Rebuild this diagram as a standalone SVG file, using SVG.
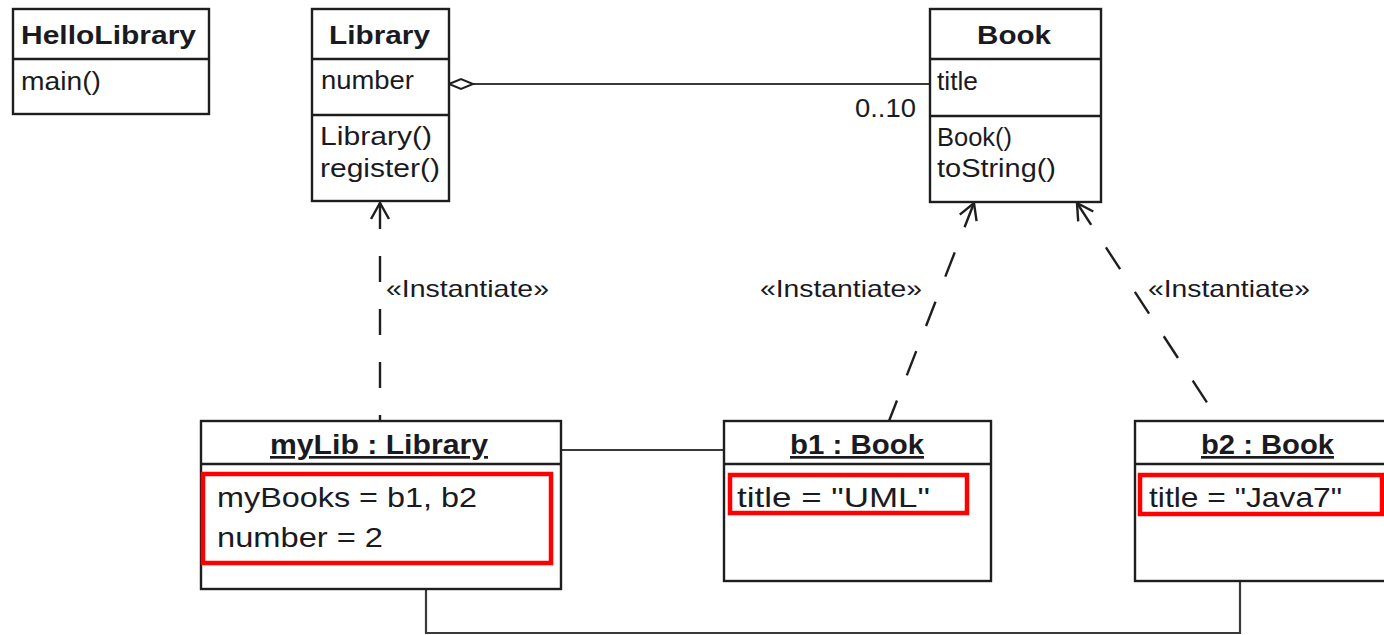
<svg xmlns="http://www.w3.org/2000/svg" width="1384" height="635" viewBox="0 0 1384 635">
  <style>
    .box { fill: #ffffff; stroke: #1e1e1e; stroke-width: 2.4; }
    .div { stroke: #1e1e1e; stroke-width: 2.4; }
    .t { font-family: "Liberation Sans", Arial, sans-serif; fill: #1a1a22; }
    .title { font-weight: bold; font-size: 26px; }
    .member { font-size: 26px; }
    .slot { font-size: 28px; }
    .obj { font-weight: bold; font-size: 27px; text-decoration: underline; }
    .stereo { font-size: 24px; }
    .link { fill: none; stroke: #3a3a3a; stroke-width: 2.2; }
    .dep { fill: none; stroke: #1e1e1e; stroke-width: 2.4; stroke-dasharray: 26 27; }
    .hl { fill: none; stroke: #ff0000; stroke-width: 4.5; }
  </style>
  <defs>
    <!-- open arrowhead; the V opens along the path direction, so it goes at the path start -->
    <marker id="open" markerUnits="userSpaceOnUse" markerWidth="40" markerHeight="40" refX="0" refY="0" viewBox="-4 -20 40 40" orient="auto" overflow="visible">
      <path d="M16,-9 L0,0 L16,9" fill="none" stroke="#1e1e1e" stroke-width="2.4"/>
    </marker>
  </defs>

  <rect width="1384" height="635" fill="#ffffff"/>

  <!-- connectors -->
  <g id="connectors">
    <!-- aggregation Library <>— Book -->
    <line class="link" x1="473" y1="84" x2="930" y2="84" stroke="#1e1e1e"/>
    <polygon points="449,84 461,79 473,84 461,89" fill="#ffffff" stroke="#1e1e1e" stroke-width="2"/>
    <text class="t member" x="855" y="117" textLength="61" lengthAdjust="spacingAndGlyphs">0..10</text>

    <!-- instantiation dependencies (drawn from the class end) -->
    <path class="dep" d="M380,203 L380,421" marker-start="url(#open)"/>
    <path class="dep" d="M974,203 L889,421" marker-start="url(#open)"/>
    <path class="dep" d="M1077,203 L1219,421" marker-start="url(#open)"/>
    <text class="t stereo" x="386" y="297" textLength="163" lengthAdjust="spacingAndGlyphs">«Instantiate»</text>
    <text class="t stereo" x="760" y="297" textLength="162" lengthAdjust="spacingAndGlyphs">«Instantiate»</text>
    <text class="t stereo" x="1148" y="297" textLength="162" lengthAdjust="spacingAndGlyphs">«Instantiate»</text>

    <!-- object links -->
    <line class="link" x1="561" y1="450" x2="724" y2="450"/>
    <path class="link" d="M426,589 V633 H1240 V581"/>
  </g>

  <!-- class HelloLibrary -->
  <g id="HelloLibrary">
    <rect class="box" x="13" y="9" width="196" height="105"/>
    <line class="div" x1="13" y1="59" x2="209" y2="59"/>
    <text class="t title" x="21" y="44" textLength="175" lengthAdjust="spacingAndGlyphs">HelloLibrary</text>
    <text class="t member" x="21" y="90" textLength="80" lengthAdjust="spacingAndGlyphs">main()</text>
  </g>

  <!-- class Library -->
  <g id="Library">
    <rect class="box" x="312" y="9" width="137" height="192"/>
    <line class="div" x1="312" y1="59" x2="449" y2="59"/>
    <line class="div" x1="312" y1="115" x2="449" y2="115"/>
    <text class="t title" x="329" y="44" textLength="101" lengthAdjust="spacingAndGlyphs">Library</text>
    <text class="t member" x="321" y="89" textLength="93" lengthAdjust="spacingAndGlyphs">number</text>
    <text class="t member" x="320" y="145" textLength="112" lengthAdjust="spacingAndGlyphs">Library()</text>
    <text class="t member" x="320" y="177" textLength="120" lengthAdjust="spacingAndGlyphs">register()</text>
  </g>

  <!-- class Book -->
  <g id="Book">
    <rect class="box" x="930" y="9" width="171" height="193"/>
    <line class="div" x1="930" y1="59" x2="1101" y2="59"/>
    <line class="div" x1="930" y1="116" x2="1101" y2="116"/>
    <text class="t title" x="977" y="44" textLength="74" lengthAdjust="spacingAndGlyphs">Book</text>
    <text class="t member" x="937" y="90" textLength="41" lengthAdjust="spacingAndGlyphs">title</text>
    <text class="t member" x="937" y="146" textLength="75" lengthAdjust="spacingAndGlyphs">Book()</text>
    <text class="t member" x="937" y="177" textLength="119" lengthAdjust="spacingAndGlyphs">toString()</text>
  </g>

  <!-- object myLib -->
  <g id="myLib">
    <rect class="box" x="201" y="421" width="360" height="168"/>
    <line class="div" x1="201" y1="464" x2="561" y2="464"/>
    <text class="t obj" x="270" y="454" textLength="218" lengthAdjust="spacingAndGlyphs">myLib : Library</text>
    <rect class="hl" x="203" y="474" width="348" height="89"/>
    <text class="t slot" x="217" y="507" textLength="260" lengthAdjust="spacingAndGlyphs">myBooks = b1, b2</text>
    <text class="t slot" x="217" y="547" textLength="166" lengthAdjust="spacingAndGlyphs">number = 2</text>
  </g>

  <!-- object b1 -->
  <g id="b1">
    <rect class="box" x="724" y="421" width="267" height="160"/>
    <line class="div" x1="724" y1="464" x2="991" y2="464"/>
    <text class="t obj" x="790" y="454" textLength="134" lengthAdjust="spacingAndGlyphs">b1 : Book</text>
    <rect class="hl" x="730" y="475" width="237" height="38"/>
    <text class="t slot" x="737" y="507" textLength="193" lengthAdjust="spacingAndGlyphs">title = "UML"</text>
  </g>

  <!-- object b2 -->
  <g id="b2">
    <rect class="box" x="1135" y="421" width="280" height="160"/>
    <line class="div" x1="1135" y1="464" x2="1415" y2="464"/>
    <text class="t obj" x="1201" y="454" textLength="133" lengthAdjust="spacingAndGlyphs">b2 : Book</text>
    <rect class="hl" x="1140" y="475" width="242" height="39"/>
    <text class="t slot" x="1149" y="507" textLength="193" lengthAdjust="spacingAndGlyphs">title = "Java7"</text>
  </g>
</svg>
